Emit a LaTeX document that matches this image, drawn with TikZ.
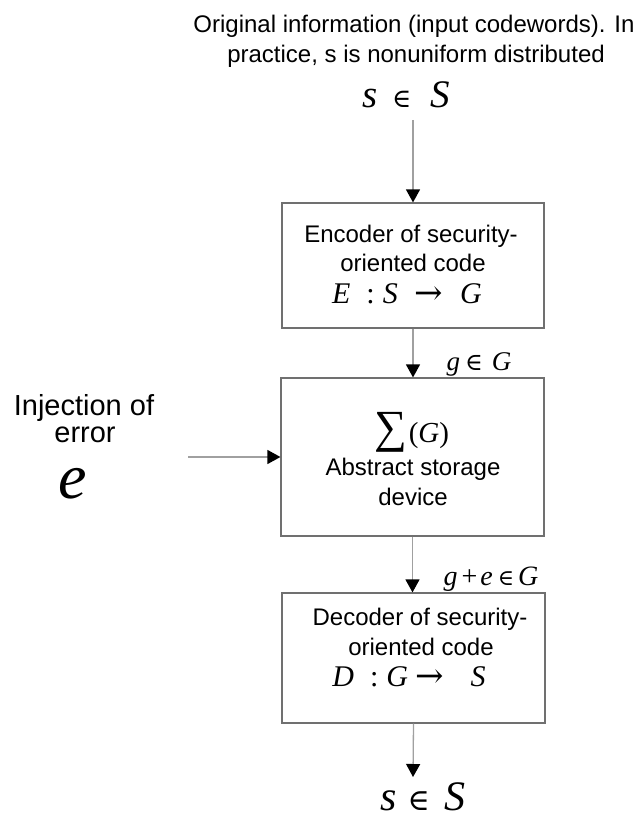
\documentclass[tikz,border=0pt]{standalone}
\usepackage{fontspec}
\setmainfont{Liberation Sans}
\newfontfamily\tms{Liberation Serif}
\newfontfamily\dvs{DejaVu Serif}
\usetikzlibrary{arrows.meta}
\definecolor{boxgray}{HTML}{707070}
\definecolor{linegray}{HTML}{A0A0A0}
\newcommand\mi[1]{{\tms\itshape #1}}
\newcommand\fs[1]{\fontsize{#1}{#1}\selectfont}
\newcommand\elem[1]{{\dvs\fs{#1}∈}}
\newcommand\arr[1]{{\dvs\fs{#1}\raisebox{-1.5pt}{→}}}
\begin{document}
\begin{tikzpicture}[x=1pt,y=-1pt,
  box/.style={draw=boxgray, line width=1.2pt, inner sep=0pt, rectangle},
  conn/.style={draw=linegray, line width=1.3pt, -{Triangle[length=13pt,width=14pt,color=black]}},
  lbl/.style={anchor=base, inner sep=0pt, font=\fs{24}}]
\useasboundingbox (0,0) rectangle (640,818);
% boxes
\node[box, minimum width=262pt, minimum height=125pt] (enc) at (413,265.5) {};
\node[box, minimum width=263pt, minimum height=158pt] (sto) at (412.5,457) {};
\node[box, minimum width=263pt, minimum height=130pt] (dec) at (413.5,658) {};
% top text
\node[lbl] (info1) at (414,33) {Original information (input codewords). In};
\node[lbl] (info2) at (416,63) {practice, s is nonuniform distributed};
\node[lbl] (sin) at (406,108) {\fs{39}\mi{s}\hspace{15pt}\elem{26}\hspace{19pt}\mi{S}};
\coordinate (a0) at (413,120);
\draw[conn] (a0) -- (enc.north);
% encoder
\node[lbl] (enc1) at (411,242) {Encoder of security-};
\node[lbl] (enc2) at (413,271) {oriented code};
\node[lbl] (enc3) at (407,303) {\fs{30}\mi{E}\hspace{16pt}{\tms :}\hspace{8pt}\mi{S}\hspace{17pt}\arr{34}\hspace{17pt}\mi{G}};
\draw[conn] (enc.south) -- (enc.south |- sto.north);
\node[lbl] (lg) at (479,370) {\fs{27}\mi{g}\hspace{5pt}\elem{24}\hspace{9pt}\mi{G}};
% storage
\node[lbl] (sig) at (412,442) {\fs{29}{\tms\fs{46}∑}\hspace{1pt}{\tms(}\mi{G}{\tms)}};
\node[lbl] (sto2) at (413,475) {Abstract storage};
\node[lbl] (sto3) at (413,505) {device};
% injection
\node[lbl, font=\fs{29}] (inj1) at (84,415) {Injection of};
\node[lbl, font=\fs{29}] (inj2) at (85,442) {error};
\node[lbl] (ine) at (73,498) {\fs{64}\mi{e}};
\coordinate (a1) at (188,457);
\draw[conn] (a1) -- (sto.west);
% to decoder
\draw[conn] (sto.south) -- (sto.south |- dec.north);
\node[lbl] (lge) at (491,585) {\fs{28}\mi{g}\hspace{4pt}{\tms +}\hspace{3pt}\mi{e}\hspace{5pt}\elem{22}\hspace{4pt}\mi{G}};
% decoder
\node[lbl] (dec1) at (420,625) {Decoder of security-};
\node[lbl] (dec2) at (421,655) {oriented code};
\node[lbl] (dec3) at (409,686) {\fs{30}\mi{D}\hspace{16pt}{\tms :}\hspace{8pt}\mi{G}\hspace{7pt}\arr{34}\hspace{27pt}\mi{S}};
\coordinate (a2) at (413,777);
\draw[conn] (dec.south) -- (a2);
\node[lbl] (sout) at (423,810) {\fs{42}\mi{s}\hspace{11pt}\elem{30}\hspace{15pt}\mi{S}};
\end{tikzpicture}
\end{document}
